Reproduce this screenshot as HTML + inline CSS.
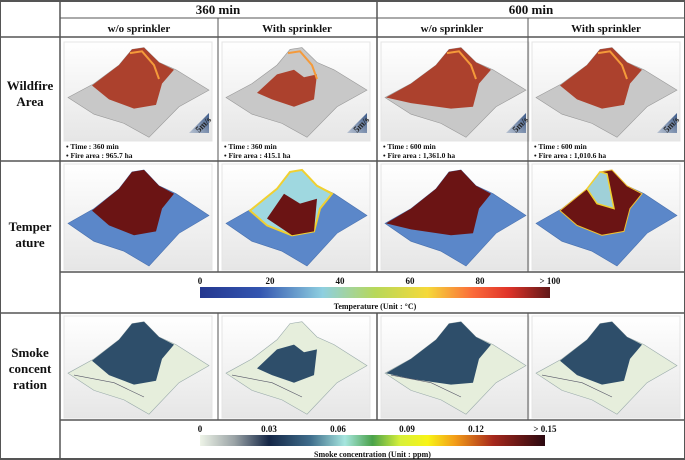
<!DOCTYPE html>
<html><head><meta charset="utf-8"><style>
html,body{margin:0;padding:0;background:#fff}
svg{display:block;font-family:"Liberation Serif",serif}
</style></head><body>
<svg id="fig" width="685" height="460" viewBox="0 0 685 460" xmlns="http://www.w3.org/2000/svg">
<defs>
<linearGradient id="pbg" x1="0" y1="0" x2="0" y2="1"><stop offset="0" stop-color="#ffffff"/><stop offset="1" stop-color="#e6e6e6"/></linearGradient>
<linearGradient id="tgrad" x1="0" x2="1">
<stop offset="0" stop-color="#24378f"/><stop offset="0.17" stop-color="#3355b0"/><stop offset="0.35" stop-color="#8ecfe0"/><stop offset="0.5" stop-color="#b7d85a"/><stop offset="0.65" stop-color="#f5d93a"/><stop offset="0.78" stop-color="#fb6a3a"/><stop offset="0.88" stop-color="#e0342a"/><stop offset="1" stop-color="#601818"/></linearGradient>
<linearGradient id="sgrad" x1="0" x2="1">
<stop offset="0" stop-color="#eef4e8"/><stop offset="0.1" stop-color="#9aa3a6"/><stop offset="0.2" stop-color="#142646"/><stop offset="0.32" stop-color="#3f6d8c"/><stop offset="0.42" stop-color="#a6e6df"/><stop offset="0.5" stop-color="#4aa24a"/><stop offset="0.58" stop-color="#d7f03a"/><stop offset="0.66" stop-color="#f8f416"/><stop offset="0.74" stop-color="#f39c18"/><stop offset="0.85" stop-color="#a6281c"/><stop offset="1" stop-color="#2a0810"/></linearGradient>
<linearGradient id="arrow" x1="0" y1="1" x2="1" y2="0"><stop offset="0" stop-color="#b9c3d2"/><stop offset="1" stop-color="#3d5a88"/></linearGradient>
</defs>
<g id="content"></g>
<g id="grid" stroke="#555" fill="none">
<line x1="0" y1="1" x2="685" y2="1" stroke-width="2"/>
<line x1="60" y1="18" x2="685" y2="18"/>
<line x1="0" y1="37" x2="685" y2="37" stroke-width="1.5"/>
<line x1="0" y1="161" x2="685" y2="161" stroke-width="1.5"/>
<line x1="60" y1="272" x2="685" y2="272" stroke-width="1.5"/>
<line x1="0" y1="313" x2="685" y2="313" stroke-width="1.5"/>
<line x1="60" y1="420" x2="685" y2="420" stroke-width="1.5"/>
<line x1="0" y1="459" x2="685" y2="459" stroke-width="2"/>
<line x1="0.5" y1="1" x2="0.5" y2="459"/>
<line x1="60" y1="1" x2="60" y2="459" stroke-width="1.5"/>
<line x1="377" y1="1" x2="377" y2="272" stroke-width="1.5"/>
<line x1="218" y1="18" x2="218" y2="272"/>
<line x1="528" y1="18" x2="528" y2="272"/>
<line x1="218" y1="313" x2="218" y2="420"/>
<line x1="377" y1="313" x2="377" y2="420" stroke-width="1.5"/>
<line x1="528" y1="313" x2="528" y2="420"/>
<line x1="684.5" y1="1" x2="684.5" y2="459"/>
</g>
<g font-weight="bold" fill="#111" text-anchor="middle">
<text x="218" y="14" font-size="13">360 min</text>
<text x="531" y="14" font-size="13">600 min</text>
<text x="139" y="32" font-size="11">w/o sprinkler</text>
<text x="297" y="32" font-size="11">With sprinkler</text>
<text x="452" y="32" font-size="11">w/o sprinkler</text>
<text x="606" y="32" font-size="11">With sprinkler</text>
<text x="30" y="90" font-size="13">Wildfire</text>
<text x="30" y="106" font-size="13">Area</text>
<text x="30" y="231" font-size="13">Temper</text>
<text x="30" y="247" font-size="13">ature</text>
<text x="30" y="357" font-size="13">Smoke</text>
<text x="30" y="373" font-size="13">concent</text>
<text x="30" y="389" font-size="13">ration</text>
</g>
<g id="bars"></g>
</svg>
<script>
const colX = [64, 222, 381, 532];
const times = ["360 min", "360 min", "600 min", "600 min"];
const fireAreas = ["965.7 ha", "415.1 ha", "1,361.0 ha", "1,010.6 ha"];
const tempTicks = ["0", "20", "40", "60", "80", "> 100"];
const smokeTicks = ["0", "0.03", "0.06", "0.09", "0.12", "> 0.15"];

const NS = "http://www.w3.org/2000/svg";
const content = document.getElementById('content');
function mk(tag, attrs, parent) {
  const e = document.createElementNS(NS, tag);
  for (const k in attrs) e.setAttribute(k, attrs[k]);
  (parent || content).appendChild(e);
  return e;
}
function pts(ox, oy, sx, sy, arr) {
  return arr.map(p => (ox + p[0] * sx).toFixed(1) + "," + (oy + p[1] * sy).toFixed(1)).join(" ");
}
const terrain = [[4,60],[30,45],[55,25],[68,8],[80,6],[95,22],[112,30],[145,52],[115,70],[85,103],[60,88],[30,78]];
const patchBig = [[28,47],[55,25],[68,8],[80,6],[95,22],[110,30],[98,45],[92,68],[70,72],[45,62]];
const patchFull = [[5,60],[30,45],[55,25],[68,8],[80,6],[95,22],[110,30],[98,45],[92,70],[70,72],[30,66]];
const patchSmall = [[35,55],[55,35],[72,30],[82,38],[95,35],[92,62],[72,70],[50,62]];
const patches = [patchBig, patchSmall, patchFull, patchBig];

function panel(i, y, h, kind) {
  const x = colX[i], w = 148;
  const g = mk('g', {});
  
  
  mk('rect', {x: x, y: y, width: w, height: h, fill: 'url(#pbg)', stroke: '#e4e4e4'}, g);
  const sy = h / 107;
  const base = {fire: '#c8c8c8', temp: '#5b87c9', smoke: '#e6eedc'}[kind];
  const stroke = {fire: '#999', temp: '#4a72b0', smoke: '#9aa'}[kind];
  mk('polygon', {points: pts(x, y, 1, sy, terrain), fill: base, stroke: stroke, 'stroke-width': 0.6}, g);
  let pc = {fire: '#a8321c', temp: '#6b1414', smoke: '#2e4e6a'}[kind];
  let p = patches[i];
  if (kind === 'temp' && i === 1) {
    mk('polygon', {points: pts(x, y, 1, sy, patchBig), fill: '#9fd8e0', stroke: '#f0d030', 'stroke-width': 2}, g);
    mk('polygon', {points: pts(x, y, 1, sy, [[45,55],[62,30],[78,40],[95,35],[92,68],[70,72]]), fill: pc}, g);
  } else if (kind === 'temp' && i === 3) {
    mk('polygon', {points: pts(x, y, 1, sy, p), fill: pc, stroke: '#f0c030', 'stroke-width': 1}, g);
    mk('polygon', {points: pts(x, y, 1, sy, [[55,25],[68,8],[75,10],[82,45],[65,40]]), fill: '#9fd0d8', stroke: '#f0d030', 'stroke-width': 1.5}, g);
  } else {
    mk('polygon', {points: pts(x, y, 1, sy, p), fill: pc, opacity: kind === 'fire' ? 0.9 : 1}, g);
  }
  if (kind === 'fire') {
    mk('polyline', {points: pts(x, y, 1, sy, [[66,12],[78,10],[90,25],[95,40]]), fill: 'none', stroke: '#f59a3a', 'stroke-width': 2}, g);
    mk('polygon', {points: (x+125)+','+(y+h-8)+' '+(x+145)+','+(y+h-8)+' '+(x+145)+','+(y+h-28), fill: 'url(#arrow)'}, g);
    const t = mk('text', {x: x+135, y: y+h-8, 'font-size': 9, 'font-weight': 'bold', fill: '#222', transform: 'rotate(-45 '+(x+135)+' '+(y+h-8)+')'}, g);
    t.textContent = '5m/s';
  } else if (kind === 'smoke') {
    mk('polyline', {points: pts(x, y, 1, sy, [[10,62],[50,70],[80,85]]), fill: 'none', stroke: '#556', 'stroke-width': 0.6}, g);
  }
}
for (let i = 0; i < 4; i++) {
  panel(i, 42, 99, 'fire');
  const t1 = mk('text', {x: colX[i] + 2, y: 149, 'font-size': 7.5, 'font-weight': 'bold', fill: '#111'});
  
  
  t1.textContent = '•  Time : ' + times[i];
  const t2 = mk('text', {x: colX[i] + 2, y: 158, 'font-size': 7.5, 'font-weight': 'bold', fill: '#111'});
  
  
  t2.textContent = '•  Fire area : ' + fireAreas[i];
  panel(i, 164, 106, 'temp');
  panel(i, 316, 102, 'smoke');
}

function colorbar(x, y, w, grad, ticks, title, name) {
  const g = mk('g', {}, document.getElementById('bars'));
  
  
  mk('rect', {x: x, y: y, width: w, height: 11, fill: grad}, g);
  ticks.forEach((tk, k) => {
    const tx = mk('text', {x: x + w * k / (ticks.length - 1), y: y - 3, 'font-size': 9, 'font-weight': 'bold', 'text-anchor': 'middle', fill: '#111'}, g);
    
    
    tx.textContent = tk;
  });
  const tt = mk('text', {x: x + w / 2, y: y + 22, 'font-size': 8, 'font-weight': 'bold', 'text-anchor': 'middle', fill: '#111'}, g);
  
  
  tt.textContent = title;
}
colorbar(200, 287, 350, 'url(#tgrad)', tempTicks, 'Temperature (Unit : °C)', 'temperature-colorbar');
colorbar(200, 435, 345, 'url(#sgrad)', smokeTicks, 'Smoke concentration (Unit : ppm)', 'smoke-colorbar');
</script>
</body></html>
